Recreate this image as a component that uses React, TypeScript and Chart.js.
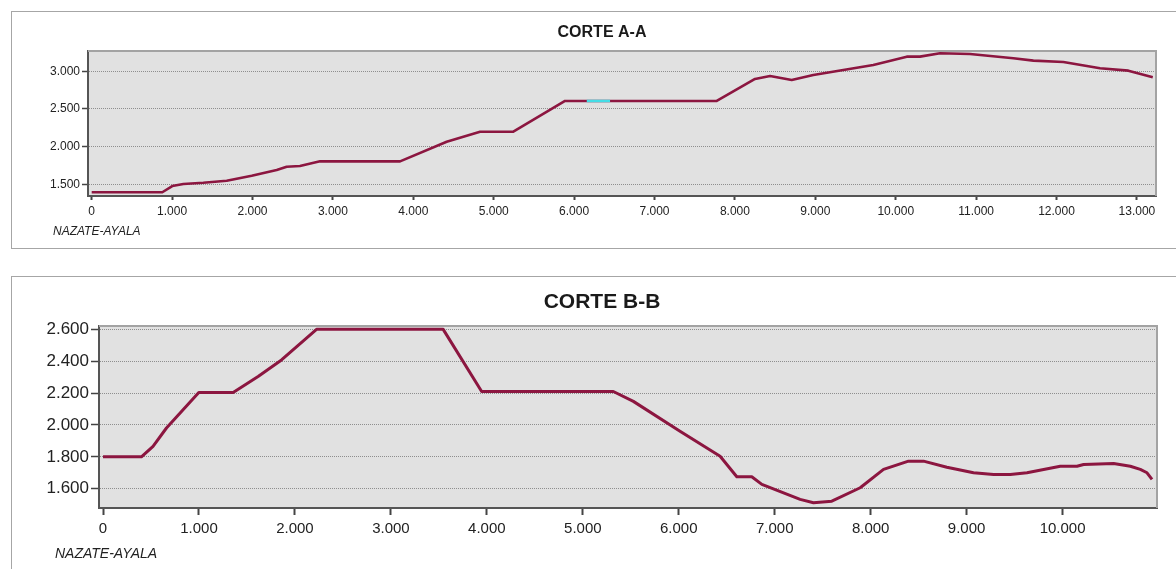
import React, { useEffect, useRef } from "react";
import { Chart, registerables } from "chart.js";

Chart.register(...registerables);

// ---------- CORTE A-A ----------
const distA = [0, 878, 1002, 1140, 1388, 1679, 1990, 2301, 2425, 2590, 2840, 3835, 4415, 4830, 5244, 5887, 7774, 8250, 8437, 8706, 8975, 9721, 10137, 10302, 10551, 10924, 11463, 11712, 12085, 12541, 12893, 13197];
const elevA = [1395, 1395, 1477, 1504, 1521, 1548, 1614, 1690, 1734, 1743, 1805, 1805, 2065, 2198, 2198, 2606, 2606, 2898, 2938, 2885, 2951, 3084, 3194, 3194, 3239, 3230, 3173, 3141, 3123, 3040, 3008, 2920];
const cyanDistA = [6157, 6447];
const cyanElevA = [2606, 2606];
const xTicksA = [0, 1000, 2000, 3000, 4000, 5000, 6000, 7000, 8000, 9000, 10000, 11000, 12000, 13000];
const yTicksA = [1500, 2000, 2500, 3000];

// ---------- CORTE B-B ----------
const distB = [0, 400, 521, 661, 998, 1356, 1616, 1860, 2225, 3545, 3946, 5318, 5527, 6013, 6431, 6605, 6761, 6866, 7265, 7404, 7595, 7891, 8134, 8394, 8551, 8794, 9072, 9281, 9455, 9629, 9976, 10150, 10219, 10532, 10706, 10810, 10880, 10932];
const elevB = [1800, 1800, 1866, 1981, 2204, 2204, 2304, 2408, 2600, 2600, 2210, 2210, 2148, 1960, 1804, 1675, 1675, 1627, 1533, 1512, 1522, 1606, 1721, 1773, 1773, 1735, 1700, 1689, 1689, 1700, 1741, 1741, 1752, 1758, 1741, 1721, 1700, 1658];
const xTicksB = [0, 1000, 2000, 3000, 4000, 5000, 6000, 7000, 8000, 9000, 10000];
const yTicksB = [1600, 1800, 2000, 2200, 2400, 2600];

const titleA = "CORTE A-A";
const titleB = "CORTE B-B";
const footerLabel = "NAZATE-AYALA";

const FONT = "'Liberation Sans', Arial, sans-serif";
const LINE_COLOR = "#8c1640";
const CYAN = "#45dde6";

const fmt = (v: number) => String(Math.round(v)).replace(/\B(?=(\d{3})+(?!\d))/g, ".");
const toPts = (xs: number[], ys: number[]) => xs.map((x, i) => ({ x, y: ys[i] }));

type Cfg = {
  left: number; top: number; width: number; height: number;
  area: { left: number; top: number; right: number; bottom: number };
  xMin: number; xMax: number; yMin: number; yMax: number;
  xTicks: number[]; yTicks: number[];
  datasets: any[];
  title: string; titleSize: number; titleX: number; titleY: number;
  footerSize: number; footerX: number; footerY: number;
  xFont: number; yFont: number;
  xTickLen: number; xPad: number; yTickLen: number; yPad: number;
};

function Profile({ cfg }: { cfg: Cfg }) {
  const ref = useRef<HTMLCanvasElement | null>(null);
  useEffect(() => {
    if (!ref.current) return;
    const a = cfg.area;
    const plugin = {
      id: "frame",
      beforeDraw(chart: any) {
        const { ctx, chartArea: ca } = chart;
        ctx.save();
        ctx.fillStyle = "#e1e1e1";
        ctx.fillRect(ca.left, ca.top, ca.right - ca.left, ca.bottom - ca.top);
        ctx.restore();
      },
      afterDraw(chart: any) {
        const { ctx, chartArea: ca } = chart;
        ctx.save();
        ctx.strokeStyle = "#a3a3a3";
        ctx.lineWidth = 2;
        ctx.beginPath();
        ctx.moveTo(ca.left, ca.top);
        ctx.lineTo(ca.right, ca.top);
        ctx.lineTo(ca.right, ca.bottom);
        ctx.stroke();
        ctx.fillStyle = "#1a1a1a";
        ctx.textBaseline = "middle";
        ctx.textAlign = "center";
        ctx.font = `bold ${cfg.titleSize}px ${FONT}`;
        ctx.fillText(cfg.title, cfg.titleX, cfg.titleY);
        ctx.textAlign = "left";
        ctx.fillStyle = "#222";
        ctx.font = `italic ${cfg.footerSize}px ${FONT}`;
        ctx.fillText(footerLabel, cfg.footerX, cfg.footerY);
        ctx.restore();
      },
    };
    const chart = new Chart(ref.current, {
      type: "line",
      data: { datasets: cfg.datasets },
      options: {
        animation: false,
        responsive: false,
        maintainAspectRatio: false,
        devicePixelRatio: 1,
        layout: { padding: { left: 0, top: a.top, right: cfg.width - a.right, bottom: 0 } },
        plugins: { legend: { display: false }, tooltip: { enabled: false }, title: { display: false } },
        elements: { point: { radius: 0 }, line: { tension: 0 } },
        scales: {
          x: {
            type: "linear",
            min: cfg.xMin,
            max: cfg.xMax,
            afterFit: (s: any) => { s.height = cfg.height - a.bottom; },
            afterBuildTicks: (s: any) => { s.ticks = cfg.xTicks.map((v) => ({ value: v })); },
            ticks: {
              autoSkip: false, maxRotation: 0, minRotation: 0,
              color: "#222", padding: cfg.xPad,
              font: { family: FONT, size: cfg.xFont },
              callback: (v: any) => fmt(Number(v)),
            },
            grid: { drawOnChartArea: false, drawTicks: true, tickLength: cfg.xTickLen, tickColor: "#444", tickWidth: 2 },
            border: { display: true, color: "#555", width: 2 },
          },
          y: {
            type: "linear",
            min: cfg.yMin,
            max: cfg.yMax,
            afterFit: (s: any) => { s.width = a.left; },
            afterBuildTicks: (s: any) => { s.ticks = cfg.yTicks.map((v) => ({ value: v })); },
            ticks: {
              autoSkip: false, color: "#222", padding: cfg.yPad,
              font: { family: FONT, size: cfg.yFont },
              callback: (v: any) => fmt(Number(v)),
            },
            grid: { drawOnChartArea: true, drawTicks: true, tickLength: cfg.yTickLen, color: "#8e8e8e", tickColor: "#444", tickWidth: 1.5, lineWidth: 1 },
            border: { display: true, color: "#555", width: 2, dash: [1, 1] },
          },
        },
      },
      plugins: [plugin],
    } as any);
    return () => chart.destroy();
  }, [cfg]);
  return (
    <canvas
      ref={ref}
      width={cfg.width}
      height={cfg.height}
      style={{ position: "absolute", left: cfg.left, top: cfg.top, width: cfg.width, height: cfg.height }}
    />
  );
}

const cfgA: Cfg = {
  left: 12, top: 12, width: 1164, height: 235,
  area: { left: 76, top: 39, right: 1144, bottom: 184 },
  xMin: -46, xMax: 13237, yMin: 1345, yMax: 3269,
  xTicks: xTicksA, yTicks: yTicksA,
  datasets: [
    { data: toPts(distA, elevA), borderColor: LINE_COLOR, borderWidth: 2.6, borderJoinStyle: "round", fill: false, order: 2 },
    { data: toPts(cyanDistA, cyanElevA), borderColor: CYAN, borderWidth: 2.6, fill: false, order: 1 },
  ],
  title: titleA, titleSize: 16, titleX: 590, titleY: 21,
  footerSize: 12, footerX: 41, footerY: 220,
  xFont: 12, yFont: 12, xTickLen: 4, xPad: 4, yTickLen: 6, yPad: 2,
};

const cfgB: Cfg = {
  left: 12, top: 277, width: 1164, height: 292,
  area: { left: 87, top: 49, right: 1145, bottom: 231 },
  xMin: -42, xMax: 10984, yMin: 1479, yMax: 2621,
  xTicks: xTicksB, yTicks: yTicksB,
  datasets: [
    { data: toPts(distB, elevB), borderColor: LINE_COLOR, borderWidth: 3, borderJoinStyle: "round", fill: false },
  ],
  title: titleB, titleSize: 21, titleX: 590, titleY: 25,
  footerSize: 14, footerX: 43, footerY: 277,
  xFont: 15, yFont: 17, xTickLen: 7, xPad: 5, yTickLen: 8, yPad: 2,
};

export default function App() {
  return (
    <div style={{ position: "fixed", left: 0, top: 0, width: 1176, height: 569, overflow: "hidden", background: "#fff" }}>
      <div style={{ position: "absolute", left: 11, top: 11, width: 1200, height: 238, boxSizing: "border-box", border: "1px solid #a6a6a6" }} />
      <div style={{ position: "absolute", left: 11, top: 276, width: 1200, height: 400, boxSizing: "border-box", border: "1px solid #a6a6a6" }} />
      <Profile cfg={cfgA} />
      <Profile cfg={cfgB} />
    </div>
  );
}
